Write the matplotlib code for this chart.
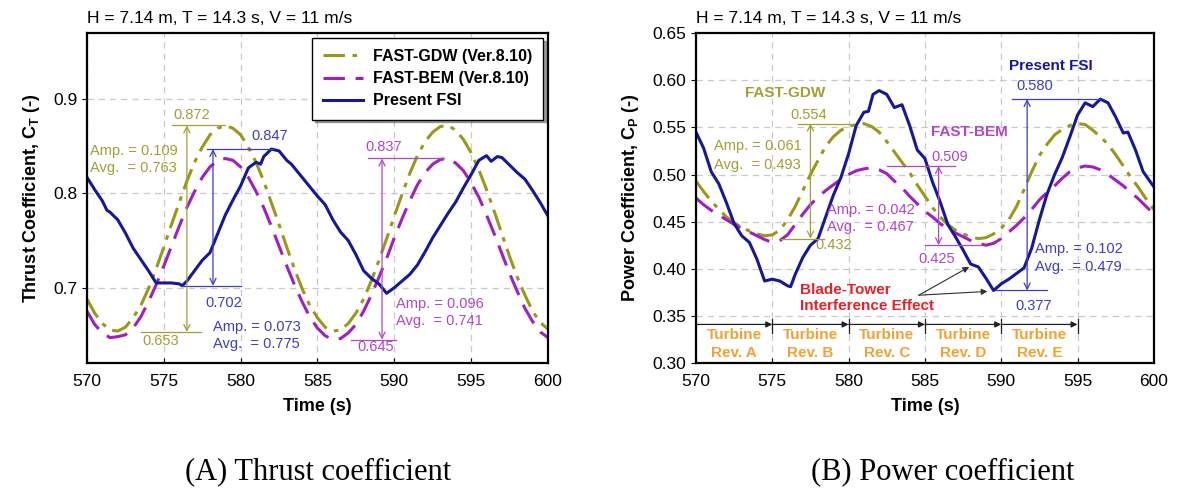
import numpy as np
import matplotlib.pyplot as plt

plt.rcParams['font.family'] = ['Liberation Sans', 'DejaVu Sans']
plt.rcParams['mathtext.fontset'] = 'custom'
plt.rcParams['mathtext.rm'] = 'Liberation Sans'
plt.rcParams['mathtext.bf'] = 'Liberation Sans:bold'

# ---- thrust coefficient (left) ----
t_half = np.linspace(570, 600, 61)
ct_gdw = [0.688, 0.673, 0.662, 0.655, 0.654, 0.658, 0.668, 0.681, 0.699, 0.720,
          0.743, 0.767, 0.790, 0.813, 0.833, 0.849, 0.862, 0.869, 0.872, 0.869,
          0.862, 0.849, 0.833, 0.813, 0.790, 0.767, 0.743, 0.720, 0.699, 0.681,
          0.668, 0.658, 0.654, 0.655, 0.662, 0.673, 0.688, 0.707, 0.729, 0.752,
          0.776, 0.799, 0.821, 0.840, 0.855, 0.865, 0.871, 0.872, 0.867, 0.857,
          0.843, 0.825, 0.804, 0.781, 0.757, 0.733, 0.711, 0.692, 0.675, 0.663,
          0.656]
ct_bem = [0.675, 0.661, 0.652, 0.647, 0.648, 0.650, 0.657, 0.669, 0.685, 0.703,
          0.723, 0.744, 0.765, 0.785, 0.802, 0.817, 0.828, 0.835, 0.837, 0.835,
          0.828, 0.817, 0.802, 0.785, 0.765, 0.744, 0.723, 0.703, 0.685, 0.669,
          0.657, 0.649, 0.645, 0.646, 0.652, 0.661, 0.675, 0.692, 0.711, 0.731,
          0.753, 0.773, 0.792, 0.809, 0.822, 0.831, 0.836, 0.837, 0.832, 0.824,
          0.811, 0.796, 0.777, 0.757, 0.736, 0.715, 0.696, 0.678, 0.664, 0.653,
          0.647]
t_fsi_ct = [570.0, 570.5, 571.0, 571.3, 571.5, 572.0, 572.5, 573.0, 573.5, 574.0,
            574.5, 575.0, 575.5, 576.0, 576.2, 576.5, 577.0, 577.5, 578.0, 578.5,
            579.0, 579.5, 580.0, 580.5, 581.0, 581.3, 581.5, 582.0, 582.5, 583.0,
            583.3, 583.5, 584.0, 584.5, 585.0, 585.5, 586.0, 586.5, 587.0, 587.5,
            588.0, 588.5, 589.0, 589.5, 590.0, 590.5, 591.0, 591.5, 592.0, 592.5,
            593.0, 593.5, 594.0, 594.5, 595.0, 595.5, 596.0, 596.3, 596.7, 597.0,
            597.5, 598.0, 598.5, 599.0, 599.5, 600.0]
ct_fsi = [0.817, 0.804, 0.792, 0.782, 0.780, 0.772, 0.758, 0.742, 0.730, 0.718,
          0.705, 0.705, 0.705, 0.704, 0.702, 0.707, 0.718, 0.729, 0.737, 0.757,
          0.777, 0.793, 0.808, 0.827, 0.833, 0.831, 0.839, 0.847, 0.845, 0.835,
          0.831, 0.827, 0.817, 0.807, 0.797, 0.788, 0.772, 0.759, 0.750, 0.735,
          0.718, 0.710, 0.704, 0.694, 0.700, 0.707, 0.714, 0.724, 0.738, 0.753,
          0.766, 0.779, 0.791, 0.806, 0.820, 0.835, 0.840, 0.834, 0.839, 0.838,
          0.830, 0.822, 0.815, 0.803, 0.790, 0.776]

# ---- power coefficient (right) ----
cp_gdw = [0.493, 0.482, 0.472, 0.463, 0.455, 0.449, 0.444, 0.440, 0.437, 0.435,
          0.436, 0.441, 0.452, 0.466, 0.483, 0.500, 0.515, 0.530, 0.540, 0.547,
          0.551, 0.553, 0.554, 0.551, 0.545, 0.535, 0.524, 0.513, 0.502, 0.489,
          0.477, 0.465, 0.455, 0.447, 0.441, 0.437, 0.434, 0.432, 0.433, 0.437,
          0.443, 0.452, 0.466, 0.484, 0.503, 0.520, 0.532, 0.542, 0.548, 0.552,
          0.554, 0.553, 0.547, 0.540, 0.532, 0.521, 0.509, 0.497, 0.486, 0.474,
          0.463]
cp_bem = [0.475, 0.468, 0.462, 0.457, 0.452, 0.447, 0.443, 0.439, 0.435, 0.431,
          0.428, 0.430, 0.436, 0.447, 0.458, 0.468, 0.476, 0.483, 0.489, 0.495,
          0.500, 0.504, 0.506, 0.507, 0.505, 0.501, 0.493, 0.486, 0.477, 0.469,
          0.461, 0.455, 0.448, 0.442, 0.438, 0.434, 0.430, 0.427, 0.425, 0.427,
          0.432, 0.439, 0.446, 0.454, 0.463, 0.473, 0.481, 0.488, 0.496, 0.503,
          0.507, 0.509, 0.508, 0.505, 0.500, 0.494, 0.488, 0.481, 0.474, 0.466,
          0.458]
t_fsi_cp = [570.0, 570.5, 571.0, 571.5, 572.0, 572.5, 573.0, 573.5, 574.0, 574.5,
            575.0, 575.5, 576.0, 576.2, 576.5, 577.0, 577.5, 578.0, 578.5, 579.0,
            579.5, 580.0, 580.5, 581.0, 581.3, 581.6, 582.0, 582.5, 583.0, 583.5,
            584.0, 584.5, 585.0, 585.5, 586.0, 586.5, 587.0, 587.5, 588.0, 588.5,
            589.0, 589.5, 590.0, 590.5, 591.0, 591.5, 592.0, 592.5, 593.0, 593.5,
            594.0, 594.5, 595.0, 595.5, 596.0, 596.5, 597.0, 597.5, 598.0, 598.3,
            598.8, 599.3, 600.0]
cp_fsi = [0.545, 0.528, 0.503, 0.490, 0.470, 0.448, 0.435, 0.428, 0.410, 0.387,
          0.389, 0.387, 0.382, 0.381, 0.394, 0.412, 0.425, 0.432, 0.455, 0.478,
          0.497, 0.522, 0.552, 0.566, 0.567, 0.585, 0.589, 0.585, 0.571, 0.574,
          0.552, 0.526, 0.517, 0.492, 0.471, 0.447, 0.434, 0.420, 0.405, 0.402,
          0.390, 0.377, 0.384, 0.389, 0.395, 0.401, 0.422, 0.452, 0.479, 0.500,
          0.518, 0.540, 0.563, 0.576, 0.572, 0.580, 0.576, 0.561, 0.544, 0.545,
          0.526, 0.503, 0.487]

# max / min / amplitude / average written on the plots
ct_marks = {'gdw': (0.872, 0.653, 0.109, 0.763),
            'bem': (0.837, 0.645, 0.096, 0.741),
            'fsi': (0.847, 0.702, 0.073, 0.775)}
cp_marks = {'gdw': (0.554, 0.432, 0.061, 0.493),
            'bem': (0.509, 0.425, 0.042, 0.467),
            'fsi': (0.580, 0.377, 0.102, 0.479)}

rev_edges = [570, 575, 580, 585, 590, 595]
rev_names = ['A', 'B', 'C', 'D', 'E']

GDW_C, GDW_T = '#999918', '#a0a035'
BEM_C, BEM_T = '#a21ec2', '#b345c8'
FSI_C, FSI_T = '#17179c', '#3d3dc6'
GRID_C = '#c9c9c9'
ORANGE = '#f2a232'
gdw_style = dict(color=GDW_C, lw=2.2, dashes=(7, 2.5, 1.5, 2.5))
bem_style = dict(color=BEM_C, lw=2.2, dashes=(7, 3.5))
fsi_style = dict(color=FSI_C, lw=2.2)
ann_fs = 10.5


def range_marker(ax, x, top, bot, top_span, bot_span, color):
    ax.plot(top_span, [top, top], color=color, lw=0.9)
    ax.plot(bot_span, [bot, bot], color=color, lw=0.9)
    ax.annotate('', xy=(x, top), xytext=(x, bot),
                arrowprops=dict(arrowstyle='<->', color=color, lw=0.9,
                                shrinkA=0, shrinkB=0, mutation_scale=11))


def style_axes(ax):
    ax.set_xlim(570, 600)
    ax.set_xticks(range(570, 601, 5))
    ax.grid(True, color=GRID_C, lw=0.9, dashes=(5, 4))
    for s in ax.spines.values():
        s.set_linewidth(1.6)
    ax.tick_params(axis='x', direction='in', labelsize=12.5, pad=8)
    ax.tick_params(axis='y', direction='out', labelsize=12.5)
    ax.set_xlabel('Time (s)', fontsize=13, fontweight='bold', labelpad=6)
    ax.text(0.0, 1.045, 'H = 7.14 m, T = 14.3 s, V = 11 m/s',
            transform=ax.transAxes, fontsize=12.5, va='center')


fig = plt.figure(figsize=(11.77, 4.90), dpi=100)
ax1 = fig.add_axes([0.0739, 0.259, 0.3917, 0.6735])
ax2 = fig.add_axes([0.5913, 0.259, 0.3890, 0.6735])

# left: thrust
ax1.plot(t_half, ct_gdw, label='FAST-GDW (Ver.8.10)', **gdw_style)
ax1.plot(t_half, ct_bem, label='FAST-BEM (Ver.8.10)', **bem_style)
ax1.plot(t_fsi_ct, ct_fsi, label='Present FSI', **fsi_style)
ax1.set_ylim(0.62, 0.97)
ax1.set_yticks([0.7, 0.8, 0.9])
ax1.set_yticklabels(['0.7', '0.8', '0.9'])
style_axes(ax1)
ax1.set_ylabel(r'Thrust Coefficient, C$_\mathbf{T}$ (-)', fontsize=13,
               fontweight='bold', labelpad=8)

hi, lo, amp, avg = ct_marks['gdw']
range_marker(ax1, 576.5, hi, lo, [575.5, 579.0], [573.5, 577.4], GDW_T)
ax1.text(575.6, 0.883, f'{hi:.3f}', color=GDW_T, fontsize=ann_fs, va='center')
ax1.text(573.6, 0.643, f'{lo:.3f}', color=GDW_T, fontsize=ann_fs, va='center')
ax1.text(570.2, 0.845, f'Amp. = {amp:.3f}', color=GDW_T, fontsize=ann_fs, va='center')
ax1.text(570.2, 0.827, f'Avg.  = {avg:.3f}', color=GDW_T, fontsize=ann_fs, va='center')

hi, lo, amp, avg = ct_marks['fsi']
range_marker(ax1, 578.2, hi, lo, [577.8, 582.1], [576.1, 580.0], FSI_T)
ax1.text(580.7, 0.861, f'{hi:.3f}', color=FSI_T, fontsize=ann_fs, va='center')
ax1.text(577.7, 0.684, f'{lo:.3f}', color=FSI_T, fontsize=ann_fs, va='center')
ax1.text(578.2, 0.658, f'Amp. = {amp:.3f}', color=FSI_T, fontsize=ann_fs, va='center')
ax1.text(578.2, 0.640, f'Avg.  = {avg:.3f}', color=FSI_T, fontsize=ann_fs, va='center')

hi, lo, amp, avg = ct_marks['bem']
range_marker(ax1, 589.2, hi, lo, [588.3, 593.2], [587.2, 590.1], BEM_T)
ax1.text(588.1, 0.849, f'{hi:.3f}', color=BEM_T, fontsize=ann_fs, va='center')
ax1.text(587.6, 0.637, f'{lo:.3f}', color=BEM_T, fontsize=ann_fs, va='center')
ax1.text(590.1, 0.683, f'Amp. = {amp:.3f}', color=BEM_T, fontsize=ann_fs, va='center')
ax1.text(590.1, 0.665, f'Avg.  = {avg:.3f}', color=BEM_T, fontsize=ann_fs, va='center')

leg = ax1.legend(loc='upper right', handlelength=2.5, borderpad=0.7,
                 borderaxespad=0.3, fancybox=False, shadow=True,
                 prop=dict(weight='bold', size=11.5), labelspacing=0.45,
                 handletextpad=0.6)
leg.get_frame().set_edgecolor('black')
leg.get_frame().set_linewidth(1.0)

# right: power
ax2.plot(t_half, cp_gdw, **gdw_style)
ax2.plot(t_half, cp_bem, **bem_style)
ax2.plot(t_fsi_cp, cp_fsi, **fsi_style)
ax2.set_ylim(0.30, 0.65)
ax2.set_yticks(np.arange(0.30, 0.651, 0.05))
ax2.set_yticklabels([f'{v:.2f}' for v in np.arange(0.30, 0.651, 0.05)])
style_axes(ax2)
ax2.set_ylabel(r'Power Coefficient, C$_\mathbf{P}$ (-)', fontsize=13,
               fontweight='bold', labelpad=8)

hi, lo, amp, avg = cp_marks['gdw']
range_marker(ax2, 577.5, hi, lo, [576.7, 580.3], [575.6, 578.4], GDW_T)
ax2.text(573.2, 0.586, 'FAST-GDW', color=GDW_T, fontsize=11, fontweight='bold', va='center')
ax2.text(576.2, 0.563, f'{hi:.3f}', color=GDW_T, fontsize=ann_fs, va='center')
ax2.text(577.8, 0.425, f'{lo:.3f}', color=GDW_T, fontsize=ann_fs, va='center')
ax2.text(571.2, 0.530, f'Amp. = {amp:.3f}', color=GDW_T, fontsize=ann_fs, va='center')
ax2.text(571.2, 0.510, f'Avg.  = {avg:.3f}', color=GDW_T, fontsize=ann_fs, va='center')

hi, lo, amp, avg = cp_marks['bem']
range_marker(ax2, 585.9, hi, lo, [582.5, 587.0], [585.0, 588.7], BEM_T)
ax2.text(585.4, 0.545, 'FAST-BEM', color=BEM_T, fontsize=11, fontweight='bold', va='center')
ax2.text(585.4, 0.519, f'{hi:.3f}', color=BEM_T, fontsize=ann_fs, va='center')
ax2.text(584.6, 0.410, f'{lo:.3f}', color=BEM_T, fontsize=ann_fs, va='center')
ax2.text(578.6, 0.462, f'Amp. = {amp:.3f}', color=BEM_T, fontsize=ann_fs, va='center')
ax2.text(578.6, 0.444, f'Avg.  = {avg:.3f}', color=BEM_T, fontsize=ann_fs, va='center')

hi, lo, amp, avg = cp_marks['fsi']
range_marker(ax2, 591.7, hi, lo, [590.7, 596.5], [589.6, 593.0], FSI_T)
ax2.text(590.5, 0.615, 'Present FSI', color=FSI_C, fontsize=11, fontweight='bold', va='center')
ax2.text(591.0, 0.594, f'{hi:.3f}', color=FSI_T, fontsize=ann_fs, va='center')
ax2.text(590.9, 0.361, f'{lo:.3f}', color=FSI_T, fontsize=ann_fs, va='center')
ax2.text(592.2, 0.421, f'Amp. = {amp:.3f}', color=FSI_T, fontsize=ann_fs, va='center')
ax2.text(592.2, 0.402, f'Avg.  = {avg:.3f}', color=FSI_T, fontsize=ann_fs, va='center')

# blade passing the tower
ax2.text(576.8, 0.369, 'Blade-Tower\nInterference Effect', color='#e8202a',
         fontsize=11, fontweight='bold', va='center', linespacing=1.25)
for target in [(587.9, 0.402), (589.1, 0.376)]:
    ax2.annotate('', xy=target, xytext=(584.6, 0.372),
                 arrowprops=dict(arrowstyle='-|>', color='#303030', lw=0.8,
                                 shrinkA=0, shrinkB=0, mutation_scale=9))

# one rotor revolution per 5 s
for a, b, name in zip(rev_edges[:-1], rev_edges[1:], rev_names):
    ax2.annotate('', xy=(b, 0.341), xytext=(a, 0.341),
                 arrowprops=dict(arrowstyle='-|>', color='#202020', lw=0.9,
                                 shrinkA=0, shrinkB=0, mutation_scale=9))
    ax2.plot([b, b], [0.332, 0.347], color='#202020', lw=0.9)
    ax2.text((a + b) / 2, 0.3205, f'Turbine\nRev. {name}', color=ORANGE,
             fontsize=11, fontweight='bold', ha='center', va='center',
             linespacing=1.35)

fig.text(0.270, 0.037, '(A) Thrust coefficient', family='Liberation Serif',
         fontsize=22, ha='center', va='center')
fig.text(0.801, 0.037, '(B) Power coefficient', family='Liberation Serif',
         fontsize=22, ha='center', va='center')

fig.savefig('out.png', dpi=100)
